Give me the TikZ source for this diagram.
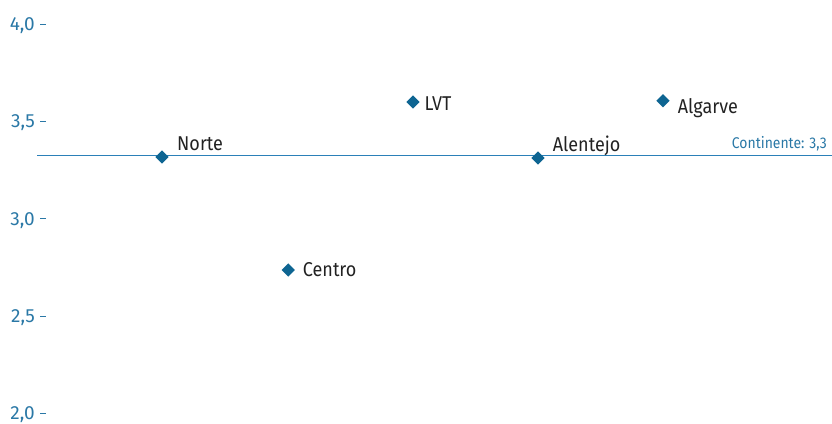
\documentclass[tikz,border=0pt]{standalone}
\usepackage{fontspec}
\setmainfont{Fira Sans}[FakeStretch=0.9]
\newfontfamily\numfont{Fira Sans}
\usetikzlibrary{shapes.geometric}
\definecolor{ptblue}{HTML}{0E6592}
\definecolor{axblue}{HTML}{2A78A6}
\definecolor{lnblue}{HTML}{2B80B8}
\definecolor{txt}{HTML}{222222}
\tikzset{
  pt/.style={diamond, fill=ptblue, draw=none, minimum size=13.5pt, inner sep=0pt},
  lbl/.style={anchor=base west, inner sep=0pt, text=txt, font=\fontsize{20}{24}\selectfont},
  ticklbl/.style={anchor=base east, inner sep=0pt, text=axblue, font=\numfont\fontsize{19}{22}\selectfont},
  tickdash/.style={draw=axblue, line width=0.9pt},
  contline/.style={draw=lnblue, line width=1.2pt},
}
\begin{document}
\begin{tikzpicture}[x=1pt,y=-1pt]
\useasboundingbox (0,0) rectangle (832,423);
% y axis tick labels
\node[ticklbl] (t40) at (35,30) {4,0};
\node[ticklbl] (t35) at (35,127.5) {3,5};
\node[ticklbl] (t30) at (35,225) {3,0};
\node[ticklbl] (t25) at (35,322) {2,5};
\node[ticklbl] (t20) at (35,419) {2,0};
\foreach \y in {24,121.3,218.7,316,413.3}{
  \draw[tickdash] (40,\y) -- (45.5,\y);
}
% continent line
\coordinate (cl) at (37,155.7);
\coordinate (cr) at (832,155.7);
\draw[contline] (cl) -- (cr);
\node[anchor=base east, inner sep=0pt, text=axblue, font=\fontsize{15.5}{18}\selectfont] (cont) at (827,148.3) {Continente: 3,3};
% points
\node[pt] (norte) at (162,157) {};
\node[pt] (centro) at (288.3,270) {};
\node[pt] (lvt) at (413,102) {};
\node[pt] (alentejo) at (538,158) {};
\node[pt] (algarve) at (663,100.7) {};
% labels
\node[lbl] (lnorte) at (177,150.3) {Norte};
\node[lbl] (lcentro) at (302.7,276.5) {Centro};
\node[lbl] (llvt) at (424.3,110) {LVT};
\node[lbl] (lalentejo) at (552.7,151) {Alentejo};
\node[lbl] (lalgarve) at (677.7,113.3) {Algarve};
\end{tikzpicture}
\end{document}
